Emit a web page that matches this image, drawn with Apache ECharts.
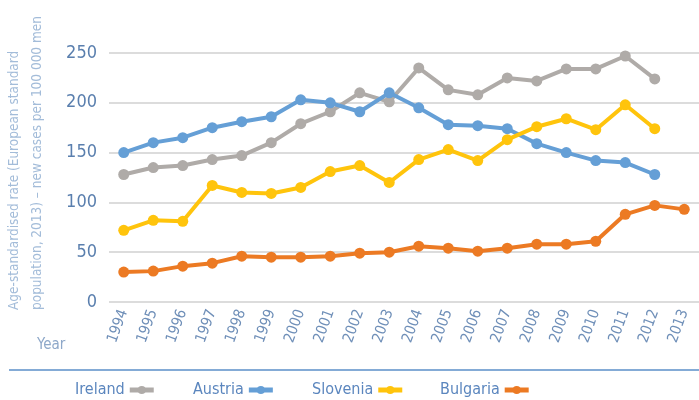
<!DOCTYPE html>
<html>
<head>
<meta charset="utf-8">
<script src="https://cdn.jsdelivr.net/npm/echarts@6/dist/echarts.min.js"></script>
<style>
  html, body { margin: 0; padding: 0; background: #fff; }
  #main { width: 699px; height: 400px; }
</style>
</head>
<body>
<div id="main"></div>
<script>
// 数据
var years = ['1994', '1995', '1996', '1997', '1998', '1999', '2000', '2001', '2002', '2003',
             '2004', '2005', '2006', '2007', '2008', '2009', '2010', '2011', '2012', '2013'];
var ireland  = [128, 135, 137, 143, 147, 160, 179, 191, 210, 201, 235, 213, 208, 225, 222, 234, 234, 247, 224, null];
var austria  = [150, 160, 165, 175, 181, 186, 203, 200, 191, 210, 195, 178, 177, 174, 159, 150, 142, 140, 128, null];
var slovenia = [72, 82, 81, 117, 110, 109, 115, 131, 137, 120, 143, 153, 142, 163, 176, 184, 173, 198, 174, null];
var bulgaria = [30, 31, 36, 39, 46, 45, 45, 46, 49, 50, 56, 54, 51, 54, 58, 58, 61, 88, 97, 93];
var yTicks = [0, 50, 100, 150, 200, 250];
var seriesNames = ['Ireland', 'Austria', 'Slovenia', 'Bulgaria'];
var seriesColors = ['#afaba8', '#659fd6', '#ffc40c', '#ec7a23'];
// 图例文字起点
var legendLeft = [75, 193, 312, 440];

var fontName = "'Liberation Sans Narrow', 'DejaVu Sans Condensed', sans-serif";

function makeSeries(name, data, color) {
    return {
        name: name,
        type: 'line',
        data: data,
        symbol: 'circle',
        symbolSize: 11,
        lineStyle: { width: 4, color: color },
        itemStyle: { color: color },
        connectNulls: false,
        animation: false
    };
}

// 每个图例单独定位
var legends = [];
for (var i = 0; i < seriesNames.length; i++) {
    legends.push({
        left: legendLeft[i],
        top: 382,
        padding: 0,
        align: 'right',
        itemWidth: 24,
        itemHeight: 10,
        itemGap: 4,
        lineStyle: { width: 5 },
        textStyle: { color: '#5b86be', fontSize: 16, fontFamily: fontName, padding: [0, 0, 0, 0] },
        data: [seriesNames[i]]
    });
}

var myChart = echarts.init(document.getElementById('main'));

var option = {
    backgroundColor: '#fff',
    textStyle: { fontFamily: fontName },
    grid: { left: 109, right: -6, top: 53, bottom: 98 },
    legend: legends,
    xAxis: {
        type: 'category',
        data: years,
        boundaryGap: true,
        axisLine: { show: false },
        axisTick: { show: false },
        axisLabel: {
            rotate: 70,
            margin: 8,
            color: '#6f8fb8',
            fontSize: 15,
            fontFamily: fontName
        }
    },
    yAxis: {
        type: 'value',
        min: yTicks[0],
        max: yTicks[yTicks.length - 1],
        interval: 50,
        axisLine: { show: false },
        axisTick: { show: false },
        axisLabel: { color: '#5a7fae', fontSize: 18, margin: 12, fontFamily: fontName },
        splitLine: { lineStyle: { color: '#d0d0d0', width: 1.5 } }
    },
    graphic: [
        {
            type: 'text',
            x: 26, y: 310,
            rotation: Math.PI / 2,
            style: {
                text: 'Age-standardised rate (European standard\npopulation, 2013) \u2013 new cases per 100 000 men',
                fill: '#a3bcd9',
                font: '13.5px ' + fontName,
                textAlign: 'left',
                verticalAlign: 'middle',
                lineHeight: 23
            }
        },
        {
            type: 'text',
            x: 37, y: 345,
            style: {
                text: 'Year',
                fill: '#8ea8c9',
                font: '15px ' + fontName,
                textAlign: 'left',
                verticalAlign: 'middle'
            }
        },
        {
            type: 'line',
            shape: { x1: 9, y1: 370, x2: 699, y2: 370 },
            style: { stroke: '#5b8fc9', lineWidth: 1.5 }
        }
    ],
    series: [
        makeSeries(seriesNames[0], ireland, seriesColors[0]),
        makeSeries(seriesNames[1], austria, seriesColors[1]),
        makeSeries(seriesNames[2], slovenia, seriesColors[2]),
        makeSeries(seriesNames[3], bulgaria, seriesColors[3])
    ]
};

myChart.setOption(option);
</script>
</body>
</html>
